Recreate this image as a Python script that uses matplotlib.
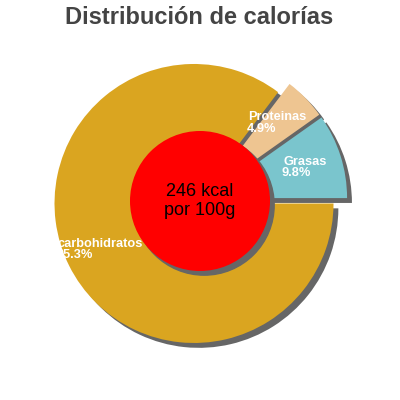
import numpy as np
import matplotlib
matplotlib.use("Agg")
import matplotlib.pyplot as plt
from matplotlib.patches import Circle, Shadow

plt.rcParams['font.family'] = ['Liberation Sans', 'DejaVu Sans']

# values (percent of calories), order starts at 3 o'clock going counter-clockwise
labels = ["Grasas", "Proteinas", "carbohidratos"]
shares = [9.8, 4.9, 85.3]
pct_labels = ["9.8%", "4.9%", "85.3%"]
colors = ["#7AC5CD", "#EEC591", "#DAA520"]
explode_frac = [0.057, 0.054, 0.048]

kcal_text = "246 kcal"
per_text = "por 100g"

# layout in pixel units (y measured from the bottom)
W = H = 400
center = (200, 199.5)
radius = 139.5
label_pos = [(283, 400 - 165), (248, 400 - 120), (58, 400 - 247)]
line_gap = 11.5

fig = plt.figure(figsize=(4, 4), dpi=100)
ax = fig.add_axes([0, 0, 1, 1])

# pie's explode is in data units, so scale by the radius
ax.pie(
    shares,
    colors=colors,
    explode=[e * radius for e in explode_frac],
    startangle=0,
    counterclock=True,
    radius=radius,
    center=center,
    shadow={"ox": 3.5, "oy": -3.5, "facecolor": "#666666",
            "edgecolor": "#666666", "alpha": 1},
    wedgeprops={"linewidth": 0},
)

# red centre disc with its own shadow
disc = Circle((center[0], center[1] - 0.5), 70, facecolor="#FF0000",
              edgecolor="none", zorder=3)
ax.add_patch(Shadow(disc, 3, -3, facecolor="#666666", edgecolor="#666666",
                    alpha=1, zorder=2.9))
ax.add_patch(disc)

ax.text(center[0], 400 - 196, kcal_text, ha="center", va="baseline",
        fontsize=13, color="black", zorder=4)
ax.text(center[0], 400 - 215, per_text, ha="center", va="baseline",
        fontsize=13, color="black", zorder=4)

for name, pct, (x, y) in zip(labels, pct_labels, label_pos):
    ax.text(x, y, name, ha="left", va="baseline", fontsize=9.2,
            fontweight="bold", color="white", zorder=5)
    ax.text(x - 1, y - line_gap, pct, ha="left", va="baseline", fontsize=9.2,
            fontweight="bold", color="white", zorder=5)

ax.set_xlim(0, W)
ax.set_ylim(0, H)
ax.set_aspect("equal")
ax.axis("off")

fig.text(0.497, 1 - 17 / 400, "Distribución de calorías", ha="center",
         va="center", fontsize=17, fontweight="bold", color="#444444")

fig.savefig("out.png", dpi=100, facecolor="white")
